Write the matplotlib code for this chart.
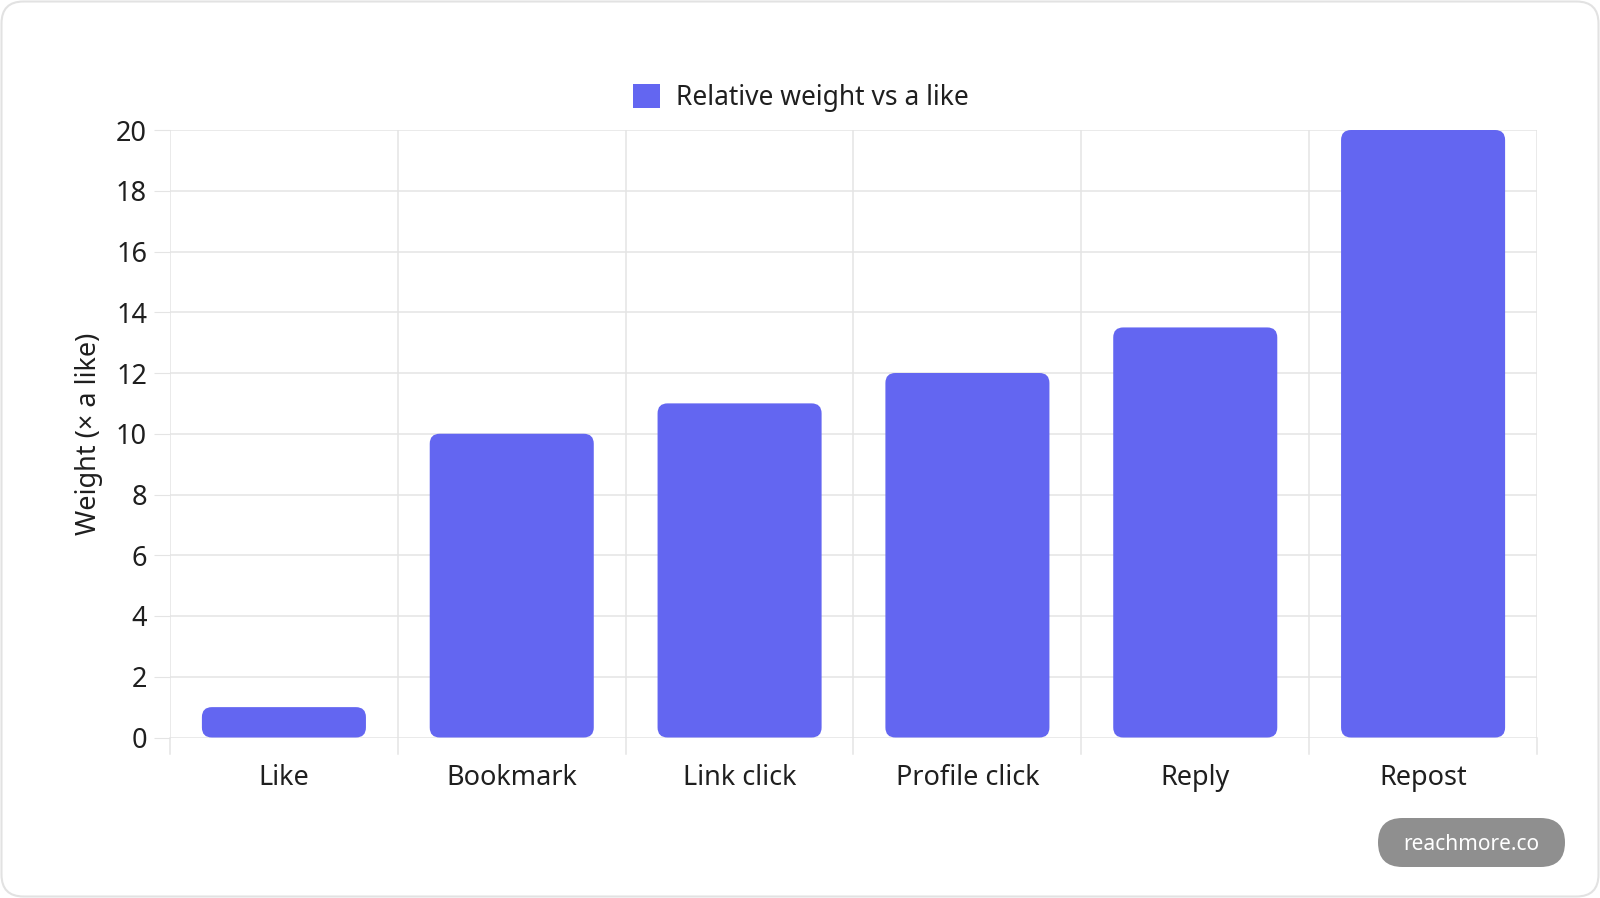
import matplotlib
matplotlib.use('Agg')
import matplotlib.pyplot as plt
from matplotlib.patches import FancyBboxPatch, Patch
from matplotlib.transforms import IdentityTransform

# data
categories = ['Like', 'Bookmark', 'Link click', 'Profile click', 'Reply', 'Repost']
weights = [1, 10, 11, 12, 13.5, 20]
series_name = 'Relative weight vs a like'
y_ticks = [0, 2, 4, 6, 8, 10, 12, 14, 16, 18, 20]

bar_color = '#6366F1'
grid_color = '#e4e4e4'
text_color = '#1f1f1f'

plt.rcParams['font.family'] = ['Noto Sans', 'DejaVu Sans']

W, H = 1600, 898
fig = plt.figure(figsize=(W / 100, H / 100), dpi=100)
fig.patch.set_facecolor('white')

# card border (behind the axes)
card = FancyBboxPatch((1.5, 1.5), W - 3, H - 3,
                      boxstyle='round,pad=0,rounding_size=22',
                      transform=IdentityTransform(),
                      facecolor='white', edgecolor='#e2e2e2', linewidth=1.5,
                      zorder=-10)
fig.add_artist(card)

# axes placed in pixels: left 170, right 1537, top 130, bottom 737.5
ax = fig.add_axes([170 / W, (H - 737.5) / H, 1367 / W, 607.5 / H])
ax.set_facecolor('none')
ax.set_zorder(1)

x = list(range(len(categories)))
bars = ax.bar(x, weights, width=0.72, color=bar_color)
ax.set_xlim(-0.5, len(categories) - 0.5)
ax.set_ylim(0, 20)

# swap the plain bars for rounded ones
px_x = 1367 / len(categories)
px_y = 607.5 / 20
radius_px = 10
aspect = px_x / px_y
for b in bars:
    bx, by = b.get_x(), b.get_y()
    bw, bh = b.get_width(), b.get_height()
    r = min(radius_px / px_x, bh * px_y / 2 / px_x)
    p = FancyBboxPatch((bx, by), bw, bh,
                       boxstyle='round,pad=0,rounding_size=%f' % r,
                       mutation_aspect=aspect,
                       facecolor=bar_color, edgecolor='none', zorder=3)
    ax.add_patch(p)
    b.set_visible(False)

# grid: horizontal lines and vertical lines at category edges
ax.set_yticks(y_ticks)
ax.set_xticks(x)
ax.set_xticklabels(categories)
for yv in y_ticks:
    ax.axhline(yv, color=grid_color, lw=1.1, zorder=1)
for i in range(len(categories) + 1):
    ax.axvline(i - 0.5, color=grid_color, lw=1.1, zorder=1)
# x "ticks" below the axis at category edges
for i in range(len(categories) + 1):
    ax.plot([i - 0.5, i - 0.5], [0, -16.5 / px_y], color=grid_color, lw=1.1,
            clip_on=False, zorder=1)

for s in ax.spines.values():
    s.set_visible(False)
ax.tick_params(axis='y', length=11.5, width=0.8, color=grid_color, pad=5,
               labelsize=19.5, labelcolor=text_color)
ax.tick_params(axis='x', length=0, pad=19, labelsize=19.5, labelcolor=text_color)

ax.set_ylabel('Weight (× a like)', fontsize=19.5, color=text_color)
ax.yaxis.set_label_coords(-0.0488, 0.5)

# legend centered on the canvas
handle = Patch(facecolor=bar_color, edgecolor='none')
fig.legend([handle], [series_name], loc='center', bbox_to_anchor=(0.5005, 1 - 98 / H),
           frameon=False, fontsize=19, handlelength=1.05, handleheight=1.05,
           handletextpad=0.6, labelcolor=text_color)

# watermark pill
pill = FancyBboxPatch((1378, 31), 187, 49,
                      boxstyle='round,pad=0,rounding_size=24.5',
                      transform=IdentityTransform(),
                      facecolor='#8f8f8f', edgecolor='none')
fig.add_artist(pill)
fig.text(1471.5 / W, 53 / H, 'reachmore.co', ha='center', va='center',
         fontsize=15, fontweight='bold', color='white')

fig.savefig('out.png', dpi=100, facecolor='white')
